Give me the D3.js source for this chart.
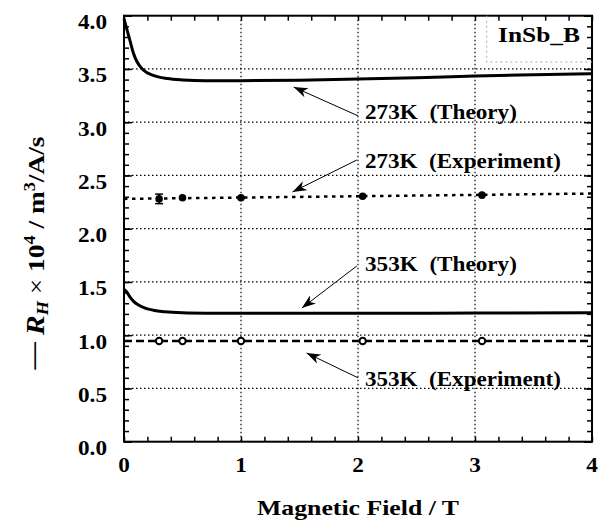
<!DOCTYPE html>
<html>
<head>
<meta charset="utf-8">
<script src="https://cdn.jsdelivr.net/npm/d3@7"></script>
<style>
  body { margin: 0; background: #fff; }
  text { font-family: "Liberation Serif", "Times New Roman", serif; font-weight: bold; fill: #000; }
</style>
</head>
<body>
<svg id="chart" width="611" height="524"></svg>
<script>
// Theory curves (field in T, -R_H x 1e4 in m^3/A/s)
const theory273 = [[0, 3.97], [0.03, 3.85], [0.05, 3.77], [0.08, 3.65], [0.11, 3.57], [0.165, 3.49],
  [0.25, 3.44], [0.37, 3.41], [0.5, 3.397], [0.7, 3.39], [1.0, 3.39], [1.5, 3.395], [2.0, 3.405],
  [2.5, 3.418], [3.0, 3.434], [3.5, 3.445], [4.0, 3.455]];
const theory353 = [[0, 1.43], [0.02, 1.41], [0.05, 1.36], [0.08, 1.32], [0.12, 1.285], [0.18, 1.255],
  [0.25, 1.235], [0.35, 1.22], [0.5, 1.21], [0.7, 1.206], [1.0, 1.205], [2.0, 1.205], [3.0, 1.208], [4.0, 1.21]];

// Experiment points and their guide lines
const expField = [0.3, 0.5, 1.0, 2.04, 3.06];
const exp273 = [2.28, 2.29, 2.29, 2.305, 2.315];
const exp273Err = [0.045, 0, 0, 0, 0];
const exp273Line = [[0, 2.28], [4, 2.33]];
const exp353 = [0.945, 0.945, 0.945, 0.945, 0.945];
const exp353Line = [[0, 0.945], [4, 0.945]];

const xTicks = [0, 1, 2, 3, 4];
const yTicks = [0, 0.5, 1, 1.5, 2, 2.5, 3, 3.5, 4];

// label text, label anchor (data units), arrow tail and tip (data units)
const notes = [
  { text: '273K  (Theory)', lx: 2.06, ly: 3.03, from: [2.0, 3.06], to: [1.45, 3.33] },
  { text: '273K  (Experiment)', lx: 2.06, ly: 2.57, from: [1.99, 2.645], to: [1.44, 2.345] },
  { text: '353K  (Theory)', lx: 2.06, ly: 1.607, from: [1.99, 1.65], to: [1.52, 1.255] },
  { text: '353K  (Experiment)', lx: 2.06, ly: 0.523, from: [2.0, 0.6], to: [1.56, 0.833] }
];

const svg = d3.select('#chart');
const margin = { top: 15.7, right: 19, bottom: 82.3, left: 124 };
const width = 611 - margin.left - margin.right;
const height = 524 - margin.top - margin.bottom;

const x = d3.scaleLinear().domain([0, 4]).range([0, width]);
const y = d3.scaleLinear().domain([0, 4]).range([height, 0]);

// squeeze/stretch a text horizontally so it spans the given width
function fitX(sel, tx, ty, target, sy) {
  sel.each(function () {
    const w = this.getComputedTextLength();
    d3.select(this).attr('transform', `translate(${tx},${ty}) scale(${target / w},${sy || 1})`);
  });
}

svg.append('defs').append('marker')
  .attr('id', 'head')
  .attr('markerUnits', 'userSpaceOnUse')
  .attr('markerWidth', 16).attr('markerHeight', 12)
  .attr('refX', 14).attr('refY', 6)
  .attr('orient', 'auto')
  .append('path')
  .attr('d', 'M0,1 L14,6 L0,11 L4,6 Z')
  .attr('fill', '#000');

const g = svg.append('g').attr('transform', `translate(${margin.left},${margin.top})`);

// dotted grid
g.append('g').selectAll('line')
  .data(xTicks.slice(1, -1)).enter().append('line')
  .attr('x1', d => x(d)).attr('x2', d => x(d))
  .attr('y1', 0).attr('y2', height)
  .attr('stroke', '#000').attr('stroke-width', 1.2).attr('stroke-dasharray', '1.5,2.5');
g.append('g').selectAll('line')
  .data(yTicks.slice(1, -1)).enter().append('line')
  .attr('y1', d => y(d)).attr('y2', d => y(d))
  .attr('x1', 0).attr('x2', width)
  .attr('stroke', '#000').attr('stroke-width', 1.2).attr('stroke-dasharray', '1.5,2.5');

// inward ticks on all four sides
const xMinor = d3.range(0, 4.001, 0.2);
const yMinor = d3.range(0, 4.001, 0.1);
function tickAxis(axis, tr) {
  g.append('g').attr('transform', tr).call(axis)
    .call(s => s.select('.domain').remove())
    .call(s => s.selectAll('line').attr('stroke', '#000').attr('stroke-width', 1.5));
}
tickAxis(d3.axisBottom(x).tickValues(xMinor).tickSize(-5).tickFormat(''), `translate(0,${height})`);
tickAxis(d3.axisTop(x).tickValues(xMinor).tickSize(-5).tickFormat(''), 'translate(0,0)');
tickAxis(d3.axisLeft(y).tickValues(yMinor).tickSize(-5).tickFormat(''), 'translate(0,0)');
tickAxis(d3.axisRight(y).tickValues(yMinor).tickSize(-5).tickFormat(''), `translate(${width},0)`);
tickAxis(d3.axisLeft(y).tickValues(yTicks).tickSize(-8).tickFormat(''), 'translate(0,0)');
tickAxis(d3.axisRight(y).tickValues(yTicks).tickSize(-8).tickFormat(''), `translate(${width},0)`);

// frame
g.append('rect').attr('width', width).attr('height', height)
  .attr('fill', 'none').attr('stroke', '#000').attr('stroke-width', 2);

// tick labels
g.append('g').selectAll('text')
  .data(xTicks).enter().append('text')
  .attr('transform', d => `translate(${x(d)},${height + 30}) scale(1.16,1)`)
  .attr('text-anchor', 'middle').style('font-size', '20px')
  .text(d => d);
g.append('g').selectAll('text')
  .data(yTicks).enter().append('text')
  .attr('text-anchor', 'end').style('font-size', '20px')
  .text(d => d3.format('.1f')(d))
  .each(function (d) { fitX(d3.select(this), -17, y(d) + 13.5, 29); });

// axis titles
svg.append('text')
  .attr('text-anchor', 'middle').style('font-size', '22px')
  .text('Magnetic Field / T')
  .call(fitX, margin.left + width / 2, 515, 202);

const yt = svg.append('text')
  .attr('text-anchor', 'middle').style('font-size', '21px');
yt.append('tspan').attr('dy', -3).text('\u2014');
yt.append('tspan').attr('dy', 3).text(' ');
yt.append('tspan').style('font-style', 'italic').style('font-size', '23px').text('R');
yt.append('tspan').style('font-style', 'italic').style('font-size', '14px').attr('dy', 4).text('H');
yt.append('tspan').attr('dy', -4).style('font-weight', 'normal').text(' \u00d7 ');
yt.append('tspan').text('10');
yt.append('tspan').style('font-size', '14px').attr('dy', -8).text('4');
yt.append('tspan').attr('dy', 8).text(' /  m');
yt.append('tspan').style('font-size', '14px').attr('dy', -8).text('3');
yt.append('tspan').attr('dy', 8).text('/A/s');
{
  const w = yt.node().getComputedTextLength();
  yt.attr('transform', `translate(44,253) rotate(-90) scale(${233 / w},1.12)`);
}

// sample box
const boxX = x(3.1), boxY = y(3.565);
g.append('path')
  .attr('d', `M${boxX},0 L${boxX},${boxY} L${width},${boxY}`)
  .attr('fill', 'none').attr('stroke', '#aaa').attr('stroke-width', 1).attr('stroke-dasharray', '2,3');
g.append('text')
  .attr('text-anchor', 'end').style('font-size', '22px')
  .text('InSb_B')
  .call(fitX, width - 12, y(3.75), 82);

// curves
const line = d3.line().x(d => x(d[0])).y(d => y(d[1]));
g.append('path').datum(theory273).attr('d', line.curve(d3.curveMonotoneX))
  .attr('fill', 'none').attr('stroke', '#000').attr('stroke-width', 3);
g.append('path').datum(theory353).attr('d', line.curve(d3.curveMonotoneX))
  .attr('fill', 'none').attr('stroke', '#000').attr('stroke-width', 3);
g.append('path').datum(exp273Line).attr('d', line)
  .attr('fill', 'none').attr('stroke', '#000').attr('stroke-width', 2.5).attr('stroke-dasharray', '3.5,4.5');
g.append('path').datum(exp353Line).attr('d', line)
  .attr('fill', 'none').attr('stroke', '#000').attr('stroke-width', 2.5).attr('stroke-dasharray', '8,4');

// experimental points
const pts273 = expField.map((f, i) => ({ f: f, v: exp273[i], e: exp273Err[i] }));
const errs = g.append('g').selectAll('g').data(pts273.filter(d => d.e > 0)).enter().append('g');
errs.append('line')
  .attr('x1', d => x(d.f)).attr('x2', d => x(d.f))
  .attr('y1', d => y(d.v + d.e)).attr('y2', d => y(d.v - d.e))
  .attr('stroke', '#000').attr('stroke-width', 1.5);
errs.selectAll('.cap').data(d => [[d.f, d.v + d.e], [d.f, d.v - d.e]]).enter().append('line')
  .attr('x1', d => x(d[0]) - 4).attr('x2', d => x(d[0]) + 4)
  .attr('y1', d => y(d[1])).attr('y2', d => y(d[1]))
  .attr('stroke', '#000').attr('stroke-width', 1.5);
g.append('g').selectAll('circle').data(pts273).enter().append('circle')
  .attr('cx', d => x(d.f)).attr('cy', d => y(d.v)).attr('r', 3.8).attr('fill', '#000');
g.append('g').selectAll('circle').data(expField.map((f, i) => [f, exp353[i]])).enter().append('circle')
  .attr('cx', d => x(d[0])).attr('cy', d => y(d[1])).attr('r', 3.2)
  .attr('fill', '#fff').attr('stroke', '#000').attr('stroke-width', 2);

// annotations
g.append('g').selectAll('line').data(notes).enter().append('line')
  .attr('x1', d => x(d.from[0])).attr('y1', d => y(d.from[1]))
  .attr('x2', d => x(d.to[0])).attr('y2', d => y(d.to[1]))
  .attr('stroke', '#000').attr('stroke-width', 1).attr('marker-end', 'url(#head)');
const targetW = { 'Theory': 152, 'Experiment': 196 };
g.append('g').selectAll('text').data(notes).enter().append('text')
  .style('font-size', '21px')
  .style('white-space', 'pre')
  .text(d => d.text)
  .each(function (d) {
    const kind = d.text.indexOf('Theory') >= 0 ? 'Theory' : 'Experiment';
    fitX(d3.select(this), x(d.lx), y(d.ly), targetW[kind]);
  });
</script>
</body>
</html>
